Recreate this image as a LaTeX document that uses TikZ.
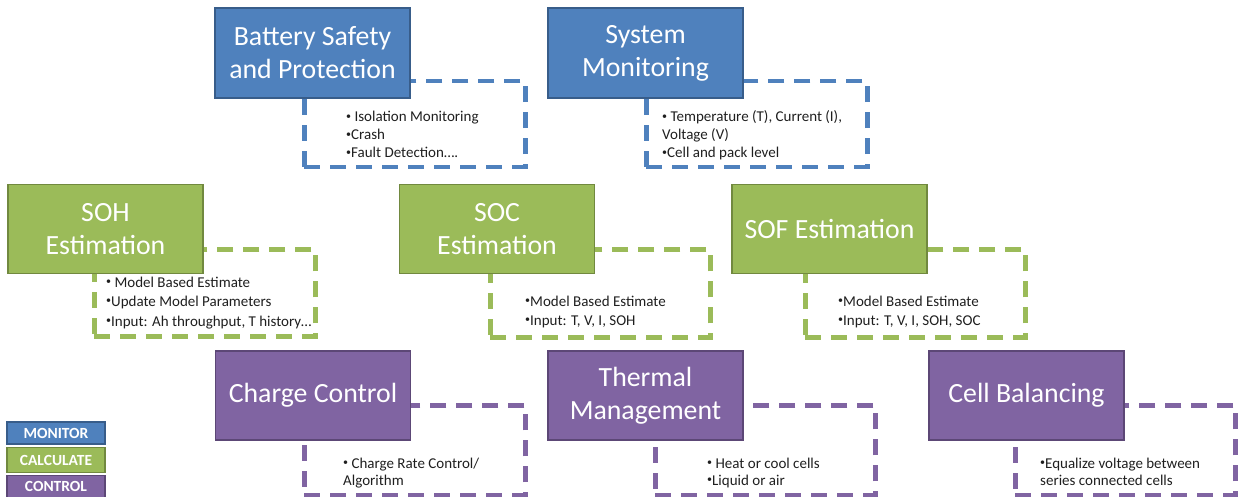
\documentclass[tikz,border=0pt]{standalone}
\usepackage{fontspec}
\setmainfont{Carlito}
\definecolor{mblue}{HTML}{4F81BD}
\definecolor{mblueD}{HTML}{385D8A}
\definecolor{mgreen}{HTML}{9BBB59}
\definecolor{mgreenD}{HTML}{71893F}
\definecolor{mpurp}{HTML}{8064A2}
\definecolor{mpurpD}{HTML}{5C4776}
\newcommand{\bul}{\raisebox{0.15em}{\fontsize{10}{10}\selectfont •}}
\tikzset{
  titlebox/.style={rectangle, fill=#1, draw=#1D, line width=1.5pt, text=white,
    align=center, font=\fontsize{27.8}{33}\selectfont, minimum width=195pt,
    minimum height=89pt, inner sep=0pt},
  infobox/.style={rectangle, draw=#1, line width=4.5pt, dash pattern=on 16pt off 10pt,
    anchor=north west, inner sep=0pt},
  bline/.style={anchor=base west, inner sep=0pt, font=\fontsize{15}{18}\selectfont, text=black!88},
  legendbox/.style={rectangle, fill=#1, draw=#1D, line width=1.5pt, text=white,
    font=\fontsize{15.5}{17}\selectfont\bfseries, minimum width=98pt, inner sep=0pt}
}
\begin{document}
\begin{tikzpicture}[x=1pt,y=-1pt]
\useasboundingbox (0,0) rectangle (1238,497);
% dashed info boxes (behind)
\node[infobox=mblue, minimum width=221pt, minimum height=86pt] (bspd) at (302,79) {};
\node[infobox=mblue, minimum width=221pt, minimum height=86pt] (smd) at (644,79) {};
\node[infobox=mgreen, minimum width=221pt, minimum height=87pt] (sohd) at (92,247) {};
\node[infobox=mgreen, minimum width=220pt, minimum height=88pt] (socd) at (488,247) {};
\node[infobox=mgreen, minimum width=220pt, minimum height=88pt] (sofd) at (803,247) {};
\node[infobox=mpurp, minimum width=221pt, minimum height=90pt] (ccd) at (302,403) {};
\node[infobox=mpurp, minimum width=220pt, minimum height=90pt] (tmd) at (653,403) {};
\node[infobox=mpurp, minimum width=220pt, minimum height=90pt] (cbd) at (1013,403) {};
% title boxes
\node[titlebox=mblue, minimum height=90pt] (bsp) at (312.5,53) {\raisebox{-1.5pt}{Battery Safety}\\\raisebox{-1.5pt}{and Protection}};
\node[titlebox=mblue, minimum height=90pt] (sm) at (645.5,53) {\raisebox{-1.5pt}{System}\\\raisebox{-1.5pt}{Monitoring}};
\node[titlebox=mgreen] (soh) at (105.5,229) {SOH\\Estimation};
\node[titlebox=mgreen] (soc) at (497,229) {SOC\\Estimation};
\node[titlebox=mgreen] (sof) at (829.5,229) {SOF Estimation};
\node[titlebox=mpurp] (cc) at (313,395.5) {Charge Control};
\node[titlebox=mpurp] (tm) at (645.5,395.5) {Thermal\\Management};
\node[titlebox=mpurp] (cb) at (1026.5,395.5) {Cell Balancing};
% bullet texts
\node[bline] (bsp1) at (346,122) {\bul\ Isolation Monitoring};
\node[bline] (bsp2) at (346,140) {\bul Crash};
\node[bline] (bsp3) at (346,158) {\bul Fault Detection….};
\node[bline] (sm1) at (662,122) {\bul\ Temperature (T), Current (I),};
\node[bline] (sm2) at (662,140) {Voltage (V)};
\node[bline] (sm3) at (662,158) {\bul Cell and pack level};
\node[bline] (soh1) at (106,287) {\bul\ Model Based Estimate};
\node[bline] (soh2) at (106,306) {\bul Update Model Parameters};
\node[bline] (soh3) at (106,326) {\bul Input: Ah throughput, T history…};
\node[bline] (soc1) at (525,306) {\bul Model Based Estimate};
\node[bline] (soc2) at (525,325) {\bul Input: T, V, I, SOH};
\node[bline] (sof1) at (838,306) {\bul Model Based Estimate};
\node[bline] (sof2) at (838,325) {\bul Input: T, V, I, SOH, SOC};
\node[bline] (cc1) at (343,468) {\bul\ Charge Rate Control/};
\node[bline] (cc2) at (343,485) {Algorithm};
\node[bline] (tm1) at (707,468) {\bul\ Heat or cool cells};
\node[bline] (tm2) at (707,485) {\bul Liquid or air};
\node[bline] (cb1) at (1040,468) {\bul Equalize voltage between};
\node[bline] (cb2) at (1040,485) {series connected cells};
% legend
\node[legendbox=mblue, minimum height=22pt] (lmon) at (56,433) {MONITOR};
\node[legendbox=mgreen, minimum height=25pt] (lcal) at (56,460) {CALCULATE};
\node[legendbox=mpurp, minimum height=22pt] (lcon) at (56,486.5) {CONTROL};
\end{tikzpicture}
\end{document}
